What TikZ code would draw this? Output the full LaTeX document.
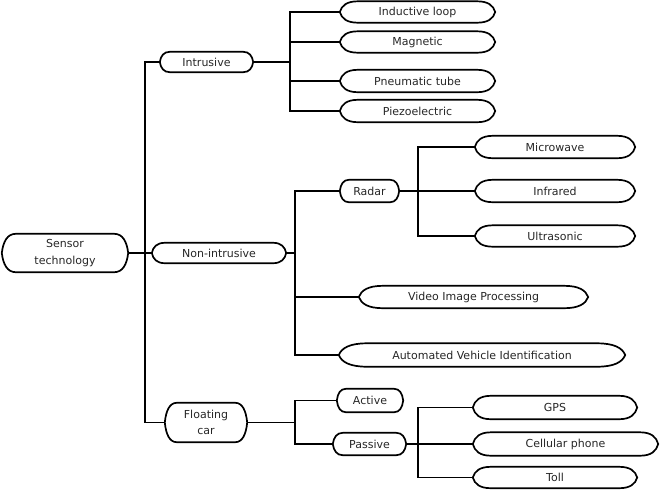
\documentclass[tikz,border=0pt]{standalone}
\usepackage{fontspec}
\setmainfont{DejaVu Sans}
\begin{document}
\begin{tikzpicture}[x=1pt,y=-1pt,
  lbl/.style={draw=none,inner sep=0pt,align=center,font=\fontsize{11}{16.5}\selectfont,text=black!85},
  outline/.style={line width=1.7pt,black},
  conn/.style={line width=1.7pt,black}]
\useasboundingbox (0,0) rectangle (660,491);
\newcommand{\bub}[7]{%
  \node[lbl,minimum width=#4,minimum height=#5] (#1) at (#2,#3) {#7};
  \draw[outline] ([xshift=#6]#1.north west) -- ([xshift=-#6]#1.north east)
    .. controls ([xshift={-0.4*#6}]#1.north east) and ([xshift={-0.1*#6},yshift={-0.2*#5}]#1.north east) .. (#1.east)
    .. controls ([xshift={-0.1*#6},yshift={0.2*#5}]#1.south east) and ([xshift={-0.4*#6}]#1.south east) .. ([xshift=-#6]#1.south east)
    -- ([xshift=#6]#1.south west)
    .. controls ([xshift={0.4*#6}]#1.south west) and ([xshift={0.1*#6},yshift={0.2*#5}]#1.south west) .. (#1.west)
    .. controls ([xshift={0.1*#6},yshift={-0.2*#5}]#1.north west) and ([xshift={0.4*#6}]#1.north west) .. cycle;}
\bub{sens}{65}{253}{126}{38}{14}{Sensor\\technology}
\bub{intr}{206.5}{62}{93}{20}{10}{Intrusive}
\bub{nonint}{219}{253}{134}{20}{13}{Non-intrusive}
\bub{float}{206}{422.5}{82}{39}{12}{Floating\\car}
\bub{ind}{417.5}{12}{155}{21}{18}{Inductive loop}
\bub{mag}{417.5}{42}{155}{21}{18}{Magnetic}
\bub{pneu}{417.5}{81}{155}{22}{18}{Pneumatic tube}
\bub{piezo}{417.5}{111}{155}{22}{18}{Piezoelectric}
\bub{radar}{369.5}{191}{59}{22}{9}{Radar}
\bub{micro}{555}{147}{160}{22}{18}{Microwave}
\bub{inf}{555}{191}{160}{22}{18}{Infrared}
\bub{ultra}{555}{236}{160}{21}{18}{Ultrasonic}
\bub{vip}{473.5}{297}{229}{22}{24}{Video Image Processing}
\bub{avi}{482}{355}{286}{23}{28}{Automated Vehicle Identification}
\bub{active}{370}{400.5}{66}{23}{9}{Active}
\bub{passive}{369.5}{444}{73}{22}{10}{Passive}
\bub{gps}{555}{407.5}{164}{23}{18}{GPS}
\bub{cell}{565.5}{444}{185}{23}{18}{Cellular phone}
\bub{toll}{555}{477.5}{164}{21}{18}{Toll}
% connectors
\coordinate (t1) at (145,62);
\coordinate (t2) at (290,62);
\coordinate (t3) at (295,253);
\coordinate (t4) at (418,191);
\coordinate (t5) at (295,422.5);
\coordinate (t6) at (418,444);
\draw[conn] (sens.east) -- (nonint.west);
\draw[conn] (intr.west) -- (t1) |- (float.west);
\draw[conn] (intr.east) -- (t2);
\draw[conn] (ind.west) -| (t2) |- (piezo.west);
\draw[conn] (mag.west) -- (mag.west -| t2);
\draw[conn] (pneu.west) -- (pneu.west -| t2);
\draw[conn] (nonint.east) -- (t3);
\draw[conn] (radar.west) -| (t3) |- (avi.west);
\draw[conn] (vip.west) -- (vip.west -| t3);
\draw[conn] (radar.east) -- (inf.west);
\draw[conn] (micro.west) -| (t4) |- (ultra.west);
\draw[conn] (float.east) -- (t5);
\draw[conn] (active.west) -| (t5) |- (passive.west);
\draw[conn] (passive.east) -- (cell.west);
\draw[conn] (gps.west) -| (t6) |- (toll.west);
\end{tikzpicture}
\end{document}
